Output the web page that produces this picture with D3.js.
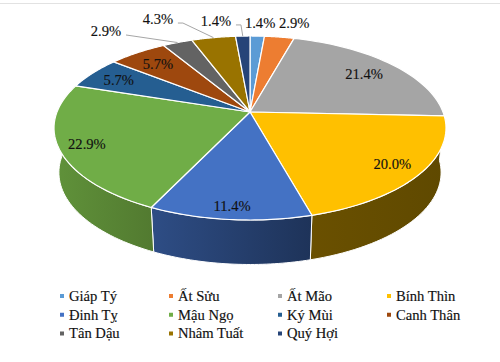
<!DOCTYPE html>
<html>
<head>
<meta charset="utf-8">
<script src="https://cdnjs.cloudflare.com/ajax/libs/d3/7.8.5/d3.min.js"></script>
<style>
  html, body { margin: 0; padding: 0; background: #fff; }
  text { font-family: "Liberation Serif", "Times New Roman", serif; fill: #111; stroke: #111; stroke-width: 0.15px; }
</style>
</head>
<body>
<svg width="500" height="362"></svg>
<script>
const names = ["Giáp Tý", "Ất Sửu", "Ất Mão", "Bính Thìn", "Đinh Tỵ", "Mậu Ngọ", "Ký Mùi", "Canh Thân", "Tân Dậu", "Nhâm Tuất", "Quý Hợi"];
const shares = [1.4, 2.9, 21.4, 20.0, 11.4, 22.9, 5.7, 5.7, 2.9, 4.3, 1.4];
const colors = ["#5b9bd5", "#ed7d31", "#a5a5a5", "#ffc000", "#4472c4", "#70ad47", "#255e91", "#9e480e", "#636363", "#997300", "#264478"];

// label placement as [radius fraction, degrees clockwise from the top]; null angle = middle of slice
const labelPlace = [[1.21, 3], [1.24, 12.9], [0.79, null], [0.855, null], [0.894, null], [0.865, null], [0.824, null], [0.80, null], [1.396, 320.6], [1.40, 335.4], [1.26, 350.2]];
const hasLeader = [false, false, false, false, false, false, false, false, true, true, true];

const svg = d3.select("svg");

// the tilted disc is a perspective view of a unit circle
const tilt = 0.174;
const x = d3.scaleLinear().domain([-1, 1]).range([250 - 193, 250 + 193]);
const y = d3.scaleLinear().domain([-1, 1]).range([112 - 89.2, 112 + 89.2]);
const depth = 44.5, bottomScale = 0.975;

function project(angle, r) {
  const u = r * Math.sin(angle), v = -r * Math.cos(angle);
  const w = 1 - tilt * v;
  return [x(0) + (x(u) - x(0)) / w, y(0) + (y(v) - y(0)) / w];
}
function lower(p) {
  return [x(0) + (p[0] - x(0)) * bottomScale, p[1] + depth];
}
function rim(a0, a1) {
  return d3.range(0, 41).map(i => project(a0 + (a1 - a0) * i / 40, 1));
}

const pie = d3.pie().value(d => d).sort(null);
const arcs = pie(shares);
const line = d3.line();

// side wall shades, left stop then right stop
const defs = svg.append("defs");
const sideColors = {3: ["#6a5000", "#5f4900"], 4: ["#2e4d85", "#1e3359"], 5: ["#60923a", "#527a30"]};
Object.keys(sideColors).forEach(i => {
  const g = defs.append("linearGradient").attr("id", "side" + i);
  // the bounding box runs left to right on screen; the walls go the other way round the pie
  g.append("stop").attr("offset", "0%").attr("stop-color", sideColors[i][0]);
  g.append("stop").attr("offset", "100%").attr("stop-color", sideColors[i][1]);
});

// thin rule along the top of the picture
svg.append("line").attr("x1", 0).attr("x2", 500).attr("y1", 3.5).attr("y2", 3.5)
  .attr("stroke", "#e2e2e2").attr("stroke-width", 1);

// side wall, only the near half can be seen
const near = arcs.filter(a => a.endAngle > Math.PI / 2 && a.startAngle < 1.5 * Math.PI);
svg.append("g").selectAll("path")
  .data(near)
  .enter().append("path")
  .attr("d", a => {
    const top = rim(Math.max(a.startAngle, Math.PI / 2), Math.min(a.endAngle, 1.5 * Math.PI));
    return line(top.concat(top.map(lower).reverse())) + "Z";
  })
  .attr("fill", a => "url(#side" + a.index + ")")
  .attr("stroke", "#fff")
  .attr("stroke-width", 1);

// top face
svg.append("g").selectAll("path")
  .data(arcs)
  .enter().append("path")
  .attr("d", a => line([[x(0), y(0)]].concat(rim(a.startAngle, a.endAngle))) + "Z")
  .attr("fill", (a, i) => colors[i])
  .attr("stroke", "#fff")
  .attr("stroke-width", 1.2)
  .attr("stroke-linejoin", "round");

function labelPos(a, i) {
  const place = labelPlace[i];
  const ang = place[1] === null ? (a.startAngle + a.endAngle) / 2 : place[1] * Math.PI / 180;
  return project(ang, place[0]);
}

// leader lines for the narrow slices at the back
svg.append("g").selectAll("path")
  .data(arcs.filter(a => hasLeader[a.index]))
  .enter().append("path")
  .attr("d", a => {
    const p = labelPos(a, a.index);
    const q = project((a.startAngle + a.endAngle) / 2, 1);
    const pts = [[p[0] + 20, p[1] + 4]];
    if (a.index !== 8) pts.push([p[0] + 25, p[1] + 4]);
    pts.push(q);
    return line(pts);
  })
  .attr("fill", "none")
  .attr("stroke", "#a6a6a6")
  .attr("stroke-width", 1);

svg.append("g").selectAll("text")
  .data(arcs)
  .enter().append("text")
  .attr("x", a => labelPos(a, a.index)[0])
  .attr("y", a => labelPos(a, a.index)[1])
  .attr("dy", "0.35em")
  .attr("text-anchor", "middle")
  .attr("font-size", 14.6)
  .text(a => a.value.toFixed(1) + "%");

// legend, four columns by three rows
const legendX = d3.scalePoint().domain(d3.range(4)).range([62, 389]);
const legendY = d3.scalePoint().domain(d3.range(3)).range([296, 333.5]);
const legend = svg.append("g").selectAll("g")
  .data(names)
  .enter().append("g")
  .attr("transform", (d, i) => `translate(${legendX(i % 4)},${legendY(Math.floor(i / 4))})`);
legend.append("rect")
  .attr("x", -2).attr("y", -2).attr("width", 4).attr("height", 4)
  .attr("fill", (d, i) => colors[i]);
legend.append("text")
  .attr("x", 7)
  .attr("dy", "0.33em")
  .attr("font-size", 14.6)
  .text(d => d);
</script>
</body>
</html>
